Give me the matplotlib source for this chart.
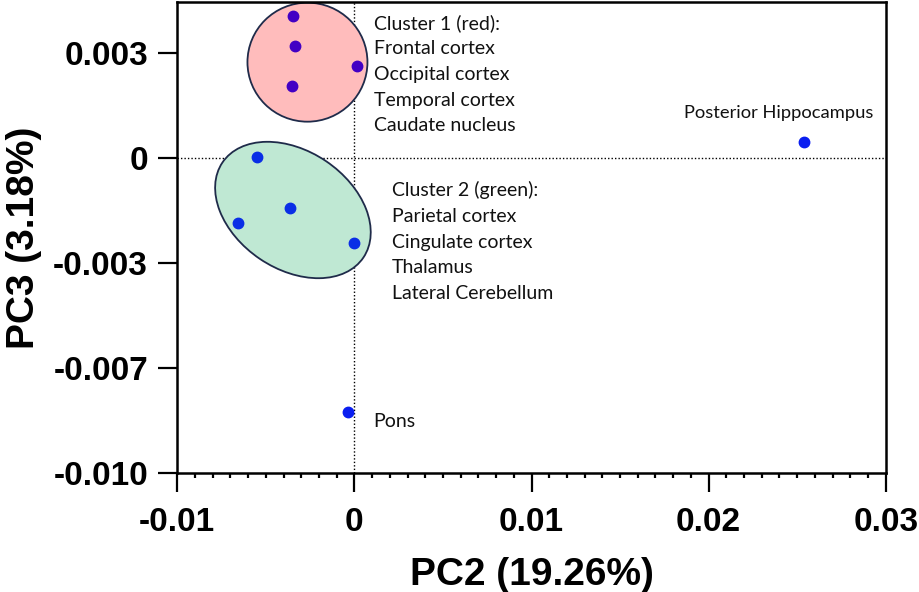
import matplotlib
matplotlib.use("Agg")
import matplotlib.pyplot as plt
from matplotlib.patches import Ellipse
from matplotlib.transforms import ScaledTranslation
from matplotlib.ticker import MultipleLocator

# PCA scores (PC2, PC3)
cluster1_pc2 = [-0.00348, -0.00334, 0.00013, -0.00351]
cluster1_pc3 = [0.00439, 0.00346, 0.00285, 0.00223]
cluster2_pc2 = [-0.00548, -0.00364, -0.00656, -0.00001]
cluster2_pc3 = [0.00004, -0.00155, -0.00201, -0.00262]
other_names = ["Posterior Hippocampus", "Pons"]
other_pc2 = [0.02539, -0.00034]
other_pc3 = [0.00050, -0.00787]

cluster1_text = "Cluster 1 (red):\nFrontal cortex\nOccipital cortex\nTemporal cortex\nCaudate nucleus"
cluster2_text = "Cluster 2 (green):\nParietal cortex\nCingulate cortex\nThalamus\nLateral Cerebellum"

xticks = [-0.01, 0, 0.01, 0.02, 0.03]
xticklabels = ["-0.01", "0", "0.01", "0.02", "0.03"]
yticks = [0.00325, 0, -0.00325, -0.0065, -0.00975]
yticklabels = ["0.003", "0", "-0.003", "-0.007", "-0.010"]

fig = plt.figure(figsize=(9.19, 5.92), dpi=100)
ax = fig.add_axes([0.1929, 0.2005, 0.7709, 0.7961])

ax.set_xlim(-0.01, 0.03)
ax.set_ylim(-0.00975, 0.00482)

ax.axhline(0, color="black", linestyle=(0, (1, 1.5)), linewidth=1.0, zorder=1)
ax.axvline(0, color="black", linestyle=(0, (1, 1.5)), linewidth=1.0, zorder=1)

# cluster outlines: centre in data units, size in inches
def cluster_ellipse(cx, cy, w, h, angle, fc, z):
    tr = fig.dpi_scale_trans + ScaledTranslation(cx, cy, ax.transData)
    e = Ellipse((0, 0), w, h, angle=angle, transform=tr, facecolor=fc,
                edgecolor="#1f2b4a", linewidth=1.3, zorder=z)
    ax.add_patch(e)

cluster_ellipse(-0.00265, 0.00296, 1.20, 1.19, 0, "#ffbcbc", 2)
cluster_ellipse(-0.00347, -0.00161, 1.70, 1.18, -34, "#bfe8d3", 2)

ax.plot(cluster1_pc2, cluster1_pc3, "o", color="#4200c4", markersize=7.5, zorder=3)
ax.plot(cluster2_pc2, cluster2_pc3, "o", color="#0a2ee6", markersize=7.5, zorder=3)
ax.plot(other_pc2, other_pc3, "o", color="#0a1ef0", markersize=7.5, zorder=3)

txt = dict(family="Lato", color="#111111")
ax.text(0.00111, 0.00259, cluster1_text, ha="left", va="center",
        fontsize=14, linespacing=1.62, **txt)
ax.text(0.00212, -0.00259, cluster2_text, ha="left", va="center",
        fontsize=14, linespacing=1.62, **txt)
ax.text(0.02393, 0.00139, other_names[0], ha="center", va="center",
        fontsize=13.2, **txt)
ax.text(0.00105, -0.00815, other_names[1], ha="left", va="center",
        fontsize=14, **txt)

ax.set_xticks(xticks)
ax.set_xticklabels(xticklabels)
ax.set_yticks(yticks)
ax.set_yticklabels(yticklabels)
ax.xaxis.set_minor_locator(MultipleLocator(0.001))

for lab in ax.get_xticklabels() + ax.get_yticklabels():
    lab.set_family("Liberation Sans")
    lab.set_fontweight("bold")
    lab.set_fontsize(24)

ax.tick_params(which="major", length=14, width=1.6, pad=7, direction="out")
ax.tick_params(axis="x", which="major", pad=10)
ax.tick_params(which="minor", length=3.5, width=1.6, direction="out")
for s in ax.spines.values():
    s.set_linewidth(1.8)

ax.set_xlabel("PC2 (19.26%)", family="Liberation Sans", fontweight="bold",
              fontsize=28, labelpad=14)
ax.set_ylabel("PC3 (3.18%)", family="Liberation Sans", fontweight="bold",
              fontsize=28, labelpad=8)

fig.savefig("out.png", dpi=100)
